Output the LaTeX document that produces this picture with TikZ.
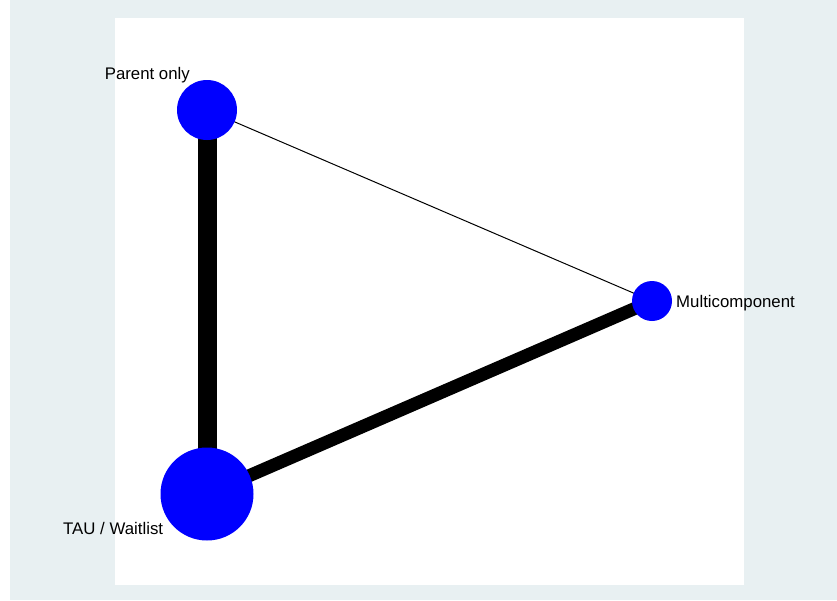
\documentclass[tikz,border=0pt]{standalone}
\usepackage{fontspec}
\setmainfont{Liberation Sans}
\usepackage{xcolor}
\usepackage{tikz}
\definecolor{plotbg}{HTML}{E8F0F2}
\pgfdeclarelayer{edgelayer}
\pgfdeclarelayer{bglayer}
\pgfsetlayers{bglayer,edgelayer,main}

\begin{document}
\begin{tikzpicture}[x=1pt,y=-1pt,
	trt/.style={circle, fill=blue, inner sep=0pt},
	lbl/.style={inner sep=0pt, font=\fontsize{16.8}{19}\selectfont}]
	\useasboundingbox (0,0) rectangle (837,600);
	\begin{pgfonlayer}{bglayer}
		\fill[plotbg] (10,0) rectangle (837,600);
		\fill[white] (115,18) rectangle (744,585);
	\end{pgfonlayer}
	\node[trt, minimum size=60pt] (parent) at (207,110) {};
	\node[trt, minimum size=40pt] (multi) at (652,301) {};
	\node[trt, minimum size=93pt] (tau) at (207,494) {};
	\node[lbl, anchor=base east] (parentlbl) at (190,79) {Parent only};
	\node[lbl, anchor=base west] (multilbl) at (676,307) {Multicomponent};
	\node[lbl, anchor=base west] (taulbl) at (63,534) {TAU / Waitlist};
	\begin{pgfonlayer}{edgelayer}
		\draw[line width=19pt] (parent.center) -- (tau.center);
		\draw[line width=13pt] (tau.center) -- (multi.center);
		\draw[line width=1pt] (parent.center) -- (multi.center);
	\end{pgfonlayer}
\end{tikzpicture}
\end{document}
